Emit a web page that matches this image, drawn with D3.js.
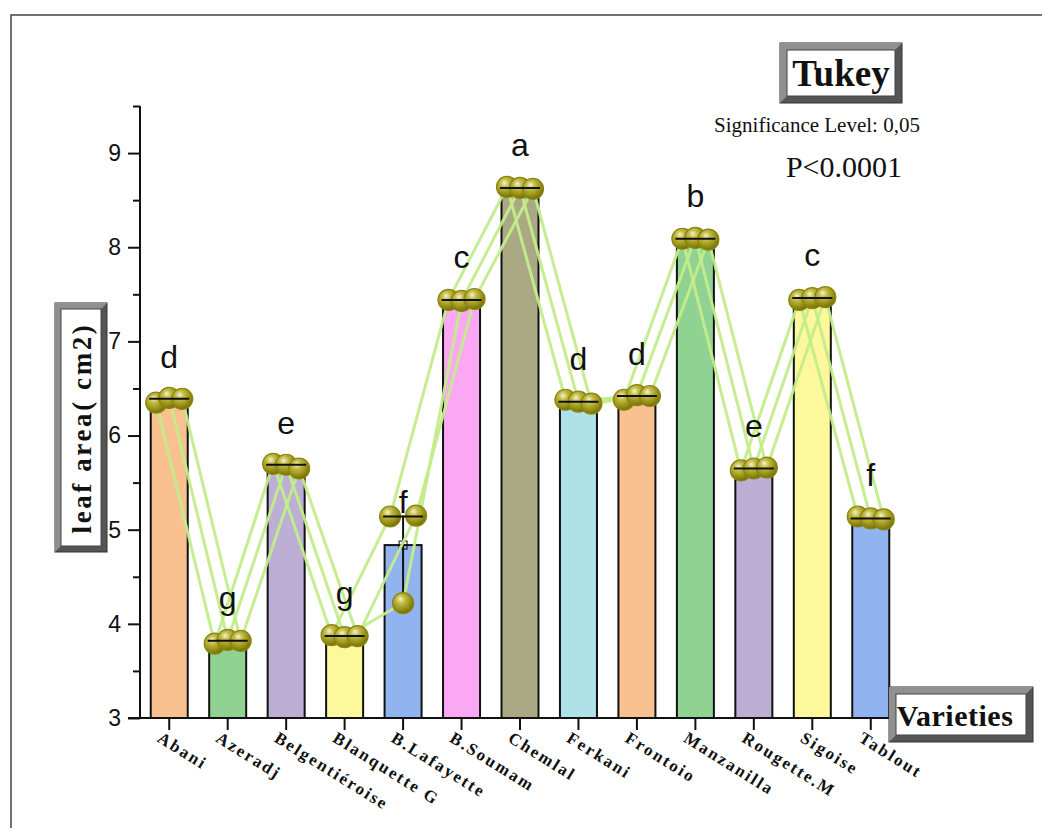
<!DOCTYPE html>
<html>
<head>
<meta charset="utf-8">
<script src="https://cdn.jsdelivr.net/npm/d3@7"></script>
<style>
  html, body { margin: 0; padding: 0; background: #fff; }
  svg { display: block; }
</style>
</head>
<body>
<svg id="chart" width="1042" height="828"></svg>
<script>
// Olive varieties and leaf area replicates (cm2)
const varieties = ["Abani", "Azeradj", "Belgentiéroise", "Blanquette G", "B.Lafayette", "B.Soumam",
  "Chemlal", "Ferkani", "Frontoio", "Manzanilla", "Rougette.M", "Sigoise", "Tablout"];
const rep1 = [6.35, 3.79, 5.70, 3.88, 5.14, 7.44, 8.64, 6.38, 6.38, 8.09, 5.63, 7.44, 5.14];
const rep2 = [6.40, 3.83, 5.69, 3.86, 4.22, 7.43, 8.63, 6.36, 6.43, 8.10, 5.65, 7.46, 5.12];
const rep3 = [6.39, 3.82, 5.65, 3.87, 5.15, 7.45, 8.62, 6.34, 6.42, 8.08, 5.66, 7.47, 5.11];
const tukeyGroups = ["d", "g", "e", "g", "f", "c", "a", "d", "d", "b", "e", "c", "f"];
const barColors = ["#f9c190", "#90d291", "#bdaed6", "#fdf89c", "#91b3ef", "#fba8f4",
  "#aaa983", "#afe1e8", "#f9c190", "#90d291", "#bdaed6", "#fdf89c", "#91b3ef"];
const yTicks = [3, 4, 5, 6, 7, 8, 9];
const yMinorTicks = [3.5, 4.5, 5.5, 6.5, 7.5, 8.5, 9.5];

const replicates = [rep1, rep2, rep3];
const rows = varieties.map((v, i) => {
  const vals = replicates.map(r => r[i]);
  return {
    name: v, i,
    vals,
    mean: d3.mean(vals),
    median: d3.median(vals),
    min: d3.min(vals),
    max: d3.max(vals),
    group: tukeyGroups[i],
    color: barColors[i]
  };
});

const svg = d3.select("#chart");
const defs = svg.append("defs");

// shaded sphere for the replicate points
const grad = defs.append("radialGradient").attr("id", "ball")
  .attr("cx", "40%").attr("cy", "35%").attr("r", "65%").attr("fx", "38%").attr("fy", "30%");
grad.append("stop").attr("offset", "0%").attr("stop-color", "#f6f3cf");
grad.append("stop").attr("offset", "30%").attr("stop-color", "#c4bd48");
grad.append("stop").attr("offset", "70%").attr("stop-color", "#9a9418");
grad.append("stop").attr("offset", "100%").attr("stop-color", "#746f08");
const soft = defs.append("filter").attr("id", "soft");
soft.append("feGaussianBlur").attr("stdDeviation", 0.6);

// outer frame
svg.append("rect").attr("x", 11).attr("y", 15).attr("width", 1100).attr("height", 900)
  .attr("fill", "none").attr("stroke", "#444").attr("stroke-width", 1.5);

const y = d3.scaleLinear().domain([3, 9.5]).range([718, 106]);
const x = d3.scaleBand().domain(varieties).range([140, 900])
  .paddingInner(0.367).paddingOuter(0.1835);
const cx = d => x(d.name) + x.bandwidth() / 2;
const offsets = [-13, 0, 13];

// bars at the variety means
svg.append("g").selectAll("rect").data(rows).join("rect")
  .attr("x", d => x(d.name))
  .attr("y", d => y(d.mean))
  .attr("width", x.bandwidth())
  .attr("height", d => y(3) - y(d.mean))
  .attr("fill", d => d.color)
  .attr("stroke", "#111").attr("stroke-width", 2);

// range whiskers and mean markers
svg.append("g").selectAll("line").data(rows).join("line")
  .attr("x1", cx).attr("x2", cx)
  .attr("y1", d => y(d.min)).attr("y2", d => y(d.max))
  .attr("stroke", "#111").attr("stroke-width", 2);
svg.append("g").selectAll("rect").data(rows).join("rect")
  .attr("x", d => cx(d) - 4).attr("y", d => y(d.mean) - 4)
  .attr("width", 8).attr("height", 8)
  .attr("fill", "none").attr("stroke", "#111").attr("stroke-width", 1);

// axes
const yAxis = svg.append("g").attr("transform", "translate(140,0)")
  .call(d3.axisLeft(y).tickValues(yTicks).tickSize(12).tickPadding(7).tickFormat(d3.format("d")));
svg.append("g").attr("transform", "translate(140,0)")
  .call(d3.axisLeft(y).tickValues(yMinorTicks).tickSize(7).tickFormat(""))
  .select(".domain").remove();
yAxis.selectAll("text").attr("font-family", "Liberation Sans, Arial, sans-serif")
  .attr("font-size", 23).attr("fill", "#111");
yAxis.select(".domain").attr("d", "M0,718V106").attr("stroke", "#111").attr("stroke-width", 2);
svg.selectAll(".tick line").attr("stroke", "#111").attr("stroke-width", 2);

const xAxis = svg.append("g").attr("transform", "translate(0,718)")
  .call(d3.axisBottom(x).tickSize(12).tickFormat(""));
xAxis.select(".domain").attr("d", "M128,0H900").attr("stroke", "#111").attr("stroke-width", 2);
xAxis.selectAll(".tick line").attr("stroke", "#111").attr("stroke-width", 2);

// rotated variety labels
svg.append("g").selectAll("text").data(rows).join("text")
  .attr("transform", d => `translate(${cx(d) - 13},741) rotate(32)`)
  .attr("font-family", "Liberation Serif, Times New Roman, serif")
  .attr("font-weight", "bold").attr("font-size", 17)
  .attr("letter-spacing", 2.1).attr("fill", "#111")
  .text(d => d.name);

// lines joining each replicate across varieties
const line = d3.line().x(p => p[0]).y(p => p[1]);
replicates.forEach((r, k) => {
  const pts = rows.map(d => [cx(d) + offsets[k], y(r[d.i])]);
  svg.append("path").attr("d", line(pts))
    .attr("fill", "none").attr("stroke", "#c3ec8b").attr("stroke-width", 3)
    .attr("stroke-opacity", 0.95);
});

// replicate spheres
const pts = [];
rows.forEach(d => replicates.forEach((r, k) => pts.push({ x: cx(d) + offsets[k], v: r[d.i] })));
svg.append("g").attr("filter", "url(#soft)").selectAll("circle").data(pts).join("circle")
  .attr("cx", p => p.x).attr("cy", p => y(p.v)).attr("r", 10.5)
  .attr("fill", "url(#ball)").attr("stroke", "#8a8512").attr("stroke-width", 1.2);

// median lines
svg.append("g").selectAll("line").data(rows).join("line")
  .attr("x1", d => cx(d) - 20).attr("x2", d => cx(d) + 20)
  .attr("y1", d => y(d.median)).attr("y2", d => y(d.median))
  .attr("stroke", "#111").attr("stroke-width", 2);

// Tukey group letters above each mean
svg.append("g").selectAll("text").data(rows).join("text")
  .attr("x", cx).attr("y", d => y(d.mean) - 32)
  .attr("text-anchor", "middle")
  .attr("font-family", "Liberation Sans, Arial, sans-serif")
  .attr("font-size", 32).attr("fill", "#111")
  .text(d => d.group);

// bevelled text boxes
function bevelBox(x0, y0, w, h, b) {
  const g = svg.append("g");
  g.append("rect").attr("x", x0).attr("y", y0).attr("width", w).attr("height", h)
    .attr("fill", "#555").attr("stroke", "#333").attr("stroke-width", 1);
  g.append("polygon")
    .attr("points", [[x0, y0], [x0 + w, y0], [x0 + w - b, y0 + b], [x0 + b, y0 + b], [x0 + b, y0 + h - b], [x0, y0 + h]].join(" "))
    .attr("fill", "#909090");
  g.append("rect").attr("x", x0 + b).attr("y", y0 + b).attr("width", w - 2 * b).attr("height", h - 2 * b)
    .attr("fill", "#fff").attr("stroke", "#444").attr("stroke-width", 1);
  return g;
}

bevelBox(780, 43, 122, 60, 7);
svg.append("text").attr("x", 841).attr("y", 86).attr("text-anchor", "middle")
  .attr("font-family", "Liberation Serif, Times New Roman, serif").attr("font-weight", "bold")
  .attr("font-size", 37).attr("fill", "#111").text("Tukey");

svg.append("text").attr("x", 817).attr("y", 132).attr("text-anchor", "middle")
  .attr("font-family", "Liberation Serif, Times New Roman, serif")
  .attr("font-size", 21).attr("fill", "#111").text("Significance Level: 0,05");
svg.append("text").attr("x", 844).attr("y", 177).attr("text-anchor", "middle")
  .attr("font-family", "Liberation Serif, Times New Roman, serif")
  .attr("font-size", 30).attr("fill", "#111").text("P<0.0001");

bevelBox(889, 687, 144, 55, 7);
svg.append("text").attr("x", 955).attr("y", 726).attr("text-anchor", "middle")
  .attr("font-family", "Liberation Serif, Times New Roman, serif").attr("font-weight", "bold")
  .attr("font-size", 30).attr("letter-spacing", 0.5).attr("fill", "#111").text("Varieties");

bevelBox(55, 303, 52, 249, 6);
svg.append("text").attr("transform", "translate(91,428) rotate(-90)").attr("text-anchor", "middle")
  .attr("font-family", "Liberation Serif, Times New Roman, serif").attr("font-weight", "bold")
  .attr("font-size", 27).attr("letter-spacing", 2.6).attr("fill", "#111").text("leaf area( cm2)");
</script>
</body>
</html>
